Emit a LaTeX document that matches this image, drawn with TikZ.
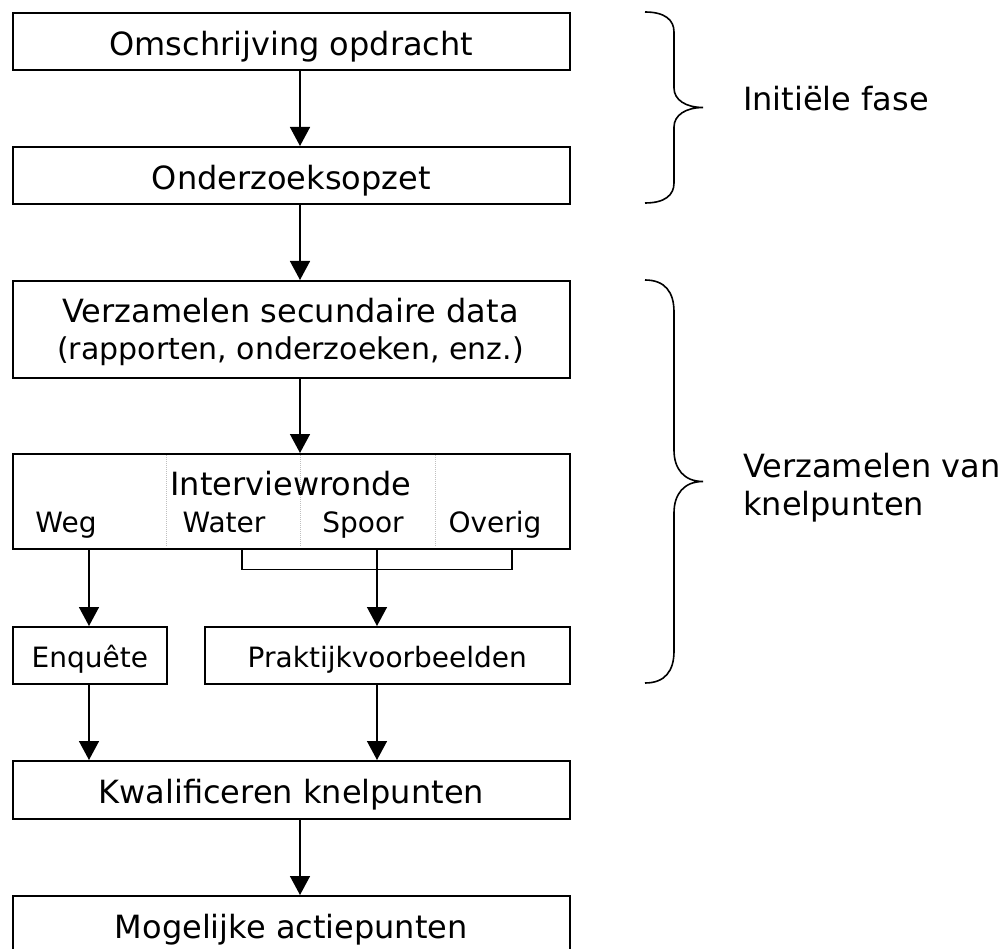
\documentclass[tikz,border=0pt]{standalone}
\usepackage{fontspec}
\setmainfont{DejaVu Sans}
\usetikzlibrary{arrows.meta}
\begin{document}
\begin{tikzpicture}[x=1pt,y=-1pt,
  box/.style={draw, line width=1.6pt, rectangle, inner sep=0pt, anchor=north west,
    font=\fontsize{32}{38}\selectfont, text height=33pt, text depth=5pt},
  smallbox/.style={box, font=\fontsize{28}{34}\selectfont, text height=29pt, text depth=4pt},
  flow/.style={line width=1.5pt, -{Triangle[width=20pt,length=19pt]}},
  conn/.style={line width=1.5pt},
  lbl/.style={inner sep=0pt, anchor=base, font=\fontsize{32}{38}\selectfont},
  sublbl/.style={inner sep=0pt, anchor=base, font=\fontsize{28}{34}\selectfont},
  bracepath/.style={line width=1.6pt},
  divider/.style={densely dotted, black!25, line width=1pt}]
\useasboundingbox (0,0) rectangle (1004,949);

% axis coordinates
\coordinate (axis) at (300,0);
\coordinate (xweg) at (89,0);
\coordinate (xmid) at (377,0);
\coordinate (xbl) at (242,0);
\coordinate (xbr) at (512,0);

% boxes
\node[box, minimum width=557pt, minimum height=57pt] (b1) at (12,12) {Omschrijving opdracht};
\node[box, minimum width=557pt, minimum height=57pt] (b2) at (12,146) {Onderzoeksopzet};
\node[box, minimum width=557pt, minimum height=97pt] (b3) at (12,280) {};
\node[lbl] (b3a) at (290.5,323) {Verzamelen secundaire data};
\node[sublbl, font=\fontsize{30}{36}\selectfont] (b3b) at (290.5,360) {(rapporten, onderzoeken, enz.)};

% interview box
\draw[divider] (166,455) -- (166,546);
\draw[divider] (300,455) -- (300,546);
\draw[divider] (435,455) -- (435,546);
\node[box, minimum width=557pt, minimum height=95pt] (iv) at (12,453) {};
\node[lbl] (ivt) at (291,495) {Interviewronde};
\node[sublbl] (weg) at (66,532) {Weg};
\node[sublbl] (water) at (224,532) {Water};
\node[sublbl] (spoor) at (363,532) {Spoor};
\node[sublbl] (overig) at (495,532) {Overig};

\node[smallbox, minimum width=154pt, minimum height=57pt] (enq) at (12,626) {Enquête};
\node[smallbox, minimum width=365pt, minimum height=57pt] (prak) at (204,626) {Praktijkvoorbeelden};
\node[box, minimum width=557pt, minimum height=58pt] (kwal) at (12,760) {Kwalificeren knelpunten};
\node[box, minimum width=557pt, minimum height=57pt] (mog) at (12,895) {Mogelijke actiepunten};

% connectors
\draw[flow] (b1.south -| axis) -- (b2.north -| axis);
\draw[flow] (b2.south -| axis) -- (b3.north -| axis);
\draw[flow] (b3.south -| axis) -- (iv.north -| axis);
\draw[flow] (iv.south -| xweg) -- (enq.north -| xweg);
\draw[conn] (iv.south -| xbl) -- ++(0,20) -| (iv.south -| xbr);
\draw[flow] (iv.south -| xmid) -- (prak.north -| xmid);
\draw[flow] (enq.south -| xweg) -- (kwal.north -| xweg);
\draw[flow] (prak.south -| xmid) -- (kwal.north -| xmid);
\draw[flow] (kwal.south -| axis) -- (mog.north -| axis);

% braces
\draw[bracepath] (645,12) .. controls (665,12) and (674,20) .. (674,32) -- (674,88)
  .. controls (674,100) and (686,107.5) .. (703,107.5)
  .. controls (686,107.5) and (674,115) .. (674,127) -- (674,183)
  .. controls (674,195) and (665,203) .. (645,203);
\draw[bracepath] (645,280) .. controls (665,280) and (674,292) .. (674,312) -- (674,450)
  .. controls (674,469) and (684,481.5) .. (703,481.5)
  .. controls (684,481.5) and (674,494) .. (674,513) -- (674,651)
  .. controls (674,671) and (665,683) .. (645,683);

\node[lbl, anchor=base west] (init) at (743,111) {Initiële fase};
\node[lbl, anchor=base west] (verz1) at (743,477) {Verzamelen van};
\node[lbl, anchor=base west] (verz2) at (743,515) {knelpunten};
\end{tikzpicture}
\end{document}
